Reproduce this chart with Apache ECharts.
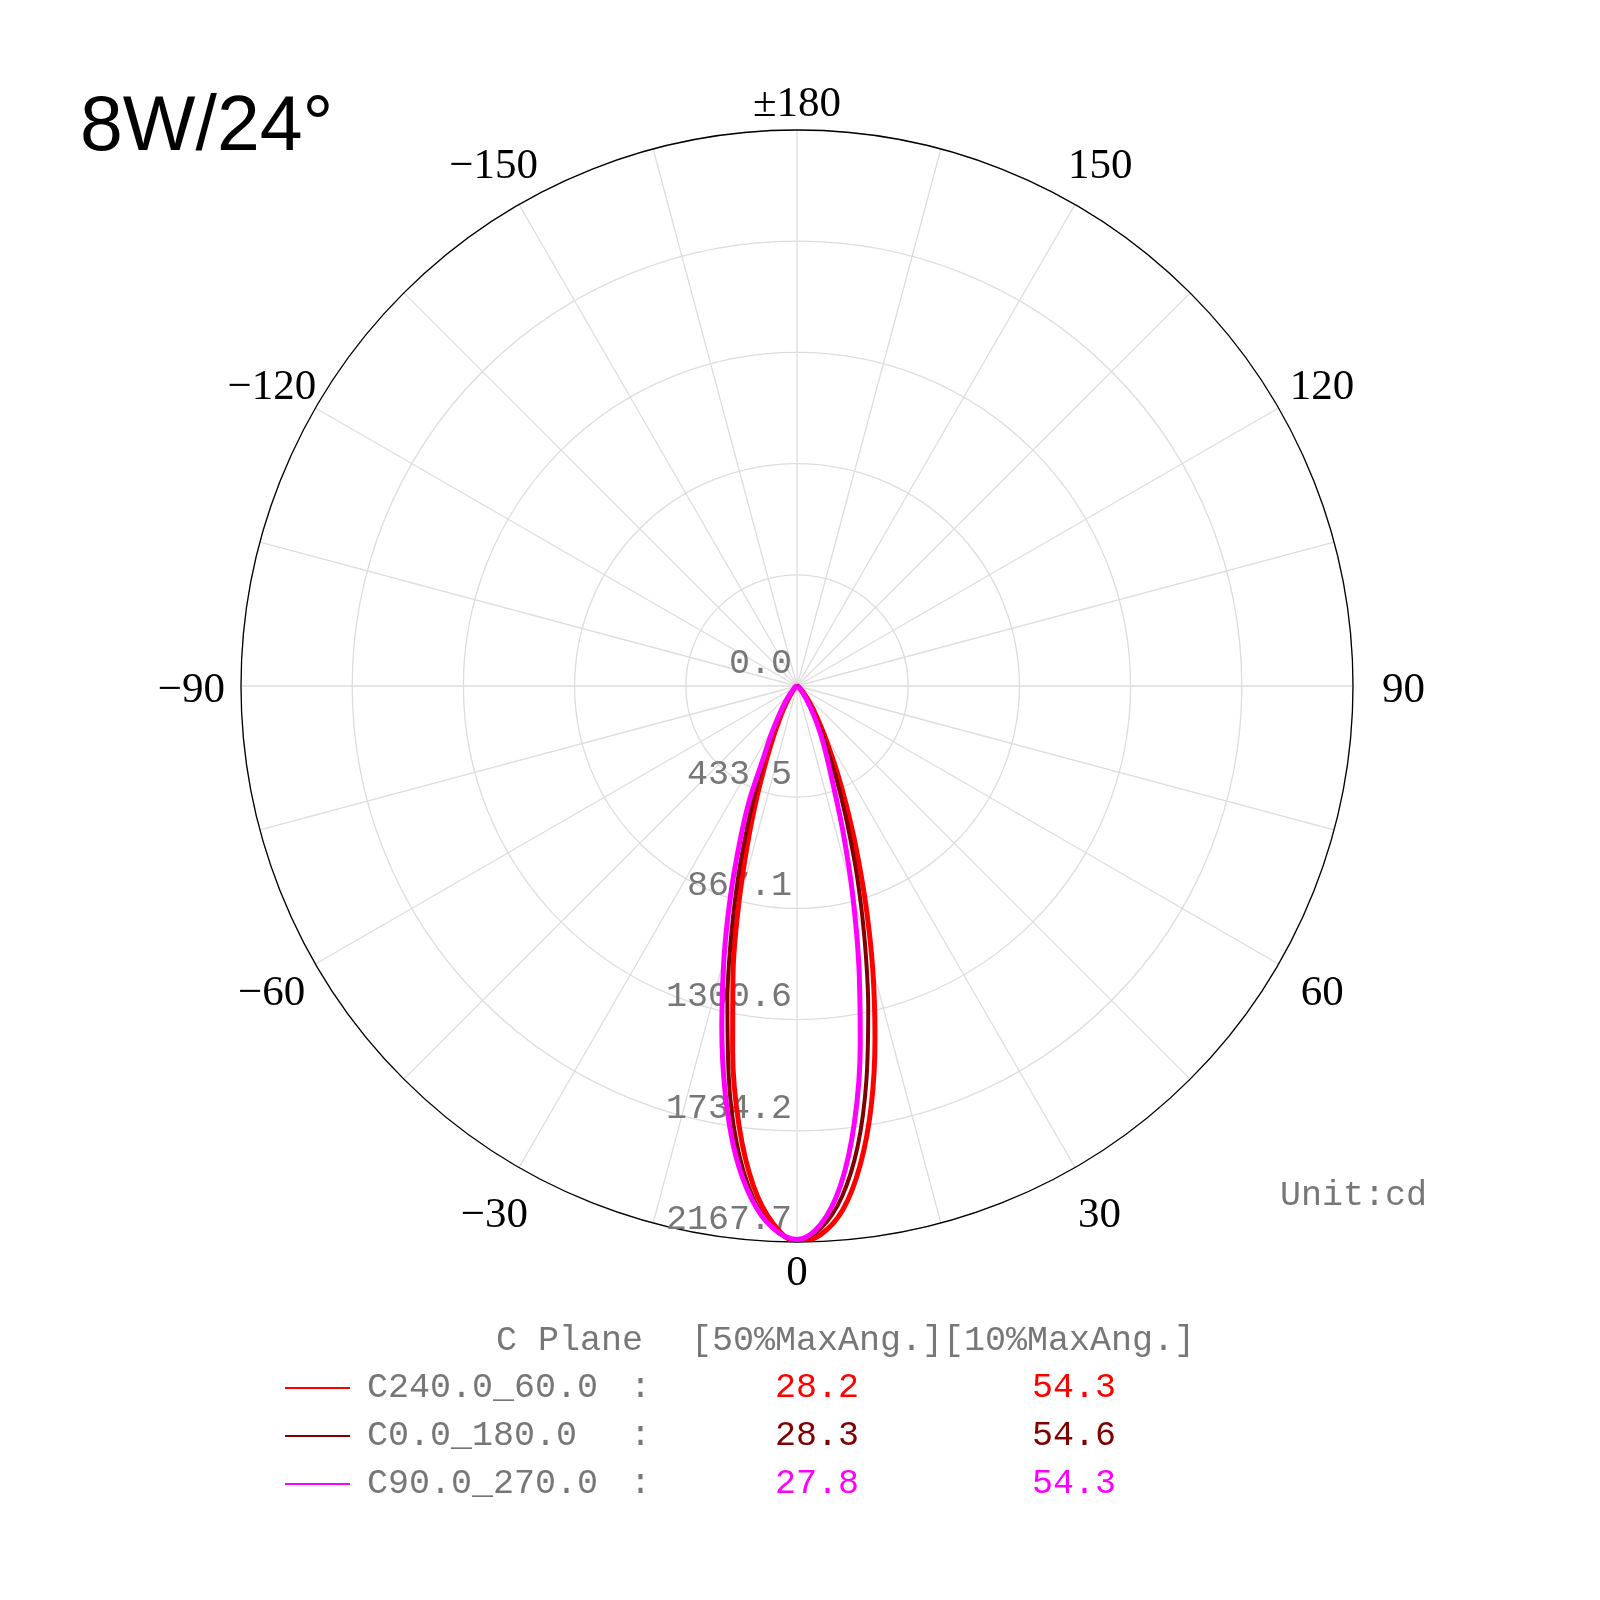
<!DOCTYPE html>
<html>
<head>
<meta charset="utf-8">
<title>8W/24°</title>
<script src="https://cdn.jsdelivr.net/npm/echarts@6/dist/echarts.min.js"></script>
<style>
  html, body { margin: 0; padding: 0; background: #fff; }
  #main { width: 1600px; height: 1600px; }
</style>
</head>
<body>
<div id="main"></div>
<script>
// gamma angles (deg), 0 = straight down
const gamma = [-180, -150, -120, -90, -80, -70, -60, -50, -45, -40, -35, -30, -27.5, -25, -22.5, -20, -17.5, -15, -12.5, -10, -7.5, -5, -2.5,
  0, 2.5, 5, 7.5, 10, 12.5, 15, 17.5, 20, 22.5, 25, 27.5, 30, 35, 40, 45, 50, 60, 70, 80, 90, 120, 150, 180];

// intensity (cd) per C plane
const c240_60 = [0, 0, 0, 0, 0, 2, 4, 10, 15, 27, 54, 108, 152, 217, 310, 451, 637, 876, 1153, 1445, 1730, 1955, 2100,
  2167.7, 2140, 2050, 1885, 1665, 1405, 1140, 890, 675, 501, 369, 267, 197, 108, 61, 33, 19, 9, 4, 2, 0, 0, 0, 0];
const c0_180 = [0, 0, 0, 0, 1, 2, 6, 13, 21, 38, 74, 144, 201, 274, 391, 542, 745, 983, 1253, 1536, 1799, 1996, 2116,
  2160, 2117, 2001, 1811, 1559, 1283, 1016, 779, 574, 418, 297, 217, 157, 82, 43, 24, 14, 7, 3, 1, 0, 0, 0, 0];
const c90_270 = [0, 0, 0, 0, 1, 3, 8, 16, 27, 48, 90, 165, 230, 310, 490, 658, 865, 1101, 1355, 1612, 1841, 2011, 2117,
  2158, 2102, 1953, 1716, 1420, 1114, 835, 598, 416, 310, 238, 178, 130, 66, 34, 18, 11, 5, 2, 0, 0, 0, 0, 0];

const planeNames = ['C240.0_60.0', 'C0.0_180.0', 'C90.0_270.0'];
const maxAng50 = ['28.2', '28.3', '27.8'];
const maxAng10 = ['54.3', '54.6', '54.3'];
const colors = ['#ff0000', '#800000', '#ff00ff'];
const radiusTicks = [0, 433.54, 867.08, 1300.62, 1734.16, 2167.7];

const MONO = 'Liberation Mono';
const SERIF = 'Liberation Serif';
const GRAY = '#777777';

const R = 556;             // polar radius in px
const ANGLE_MARGIN = -46;  // labels get pushed out with spacers below
const ANGLE_FONT = 43;
const ANGLE_LH = 44;
const ANGLE_DY = 5;        // digits sit a bit high in their box

// polar data is [radius, angle]; angle axis runs 0..360
function toPolar(vals) {
  return vals.map((v, i) => [v, gamma[i] < 0 ? gamma[i] + 360 : gamma[i]]);
}

function angleText(v) {
  if (v === 180) return '±180';
  return v > 180 ? '\u2212' + (360 - v) : String(v);
}

// echarts aligns angle labels by side; spacers centre them on a ring like the original
const measure = document.createElement('canvas').getContext('2d');
measure.font = ANGLE_FONT + 'px "' + SERIF + '"';
const angleRich = { t: { fontFamily: SERIF, fontSize: ANGLE_FONT, lineHeight: ANGLE_LH, color: '#000' } };
const angleFmt = {};
for (let v = 0; v < 360; v += 30) {
  const text = angleText(v);
  const sx = Math.sin(v * Math.PI / 180), sy = Math.cos(v * Math.PI / 180);
  const A = R + ANGLE_MARGIN;
  const want = sy < -0.99 ? 586 : (sy > 0.99 ? 583 : 606);
  const w = measure.measureText(text).width;
  const halign = Math.abs(A * sx) / R < 0.3 ? 'center' : (sx > 0 ? 'left' : 'right');
  const valign = Math.abs(A * sy) / R < 0.3 ? 'middle' : (sy > 0 ? 'top' : 'bottom');
  let hp = 0, vpTop = 0, vpBottom = 0;
  if (halign === 'left') hp = want * sx - A * sx - w / 2;
  if (halign === 'right') hp = A * sx - want * sx - w / 2;
  if (valign === 'top') vpTop = want * sy + ANGLE_DY - A * sy - ANGLE_LH / 2;
  if (valign === 'bottom') vpBottom = A * sy - (want * sy + ANGLE_DY) - ANGLE_LH / 2;
  if (valign === 'middle') vpTop = 2 * ANGLE_DY;
  hp = Math.max(0, Math.round(hp));
  vpTop = Math.max(0, Math.round(vpTop));
  vpBottom = Math.max(0, Math.round(vpBottom));
  let line = '{t|' + text + '}';
  if (hp > 0) {
    angleRich['h' + v] = { width: hp, fontSize: 1, lineHeight: ANGLE_LH };
    line = halign === 'left' ? '{h' + v + '|\u00a0}' + line : line + '{h' + v + '|\u00a0}';
  }
  if (vpTop > 0) {
    angleRich['g' + v] = { width: 1, fontSize: 1, lineHeight: vpTop };
    line = '{g' + v + '|\u00a0}\n' + line;
  }
  if (vpBottom > 0) {
    angleRich['g' + v] = { width: 1, fontSize: 1, lineHeight: vpBottom };
    line = line + '\n{g' + v + '|\u00a0}';
  }
  angleFmt[v] = line;
}

const chart = echarts.init(document.getElementById('main'));

const rich = {
  s: { width: 12, fontFamily: MONO, fontSize: 35 },
  n: { width: 263, color: GRAY, fontFamily: MONO, fontSize: 35 },
  c: { width: 145, color: GRAY, fontFamily: MONO, fontSize: 35 }
};
colors.forEach((c, i) => {
  rich['a' + i] = { width: 257, color: c, fontFamily: MONO, fontSize: 35 };
  rich['b' + i] = { color: c, fontFamily: MONO, fontSize: 35 };
});

const option = {
  backgroundColor: '#fff',
  animation: false,
  title: {
    text: '8W/24°',
    left: 75,
    top: 85,
    textStyle: { fontFamily: 'Liberation Sans', fontSize: 77, fontWeight: 'normal', color: '#000' }
  },
  polar: { center: [797, 686], radius: R },
  angleAxis: {
    type: 'value',
    min: 0,
    max: 360,
    interval: 15,
    startAngle: 270,
    clockwise: false,
    axisLine: { lineStyle: { color: '#000', width: 1.3 } },
    axisTick: { show: false },
    splitLine: { lineStyle: { color: '#dddddd', width: 1.3 } },
    axisLabel: {
      margin: ANGLE_MARGIN,
      rich: angleRich,
      formatter: function (v) {
        return angleFmt[v] || '';
      }
    }
  },
  radiusAxis: {
    type: 'value',
    min: 0,
    max: radiusTicks[radiusTicks.length - 1],
    interval: radiusTicks[1],
    axisLine: { show: false },
    axisTick: { show: false },
    splitLine: { lineStyle: { color: '#dddddd', width: 1.3 } },
    axisLabel: {
      align: 'right',
      verticalAlign: 'bottom',
      margin: -5,
      lineHeight: 45,
      color: GRAY,
      fontFamily: MONO,
      fontSize: 35,
      formatter: function (v) { return v.toFixed(1); }
    }
  },
  legend: {
    orient: 'vertical',
    left: 280,
    top: 1363,
    itemWidth: 65,
    itemHeight: 2,
    itemGap: 8,
    icon: 'rect',
    selectedMode: false,
    data: planeNames,
    textStyle: { fontFamily: MONO, fontSize: 35, color: GRAY, lineHeight: 40, rich: rich },
    formatter: function (name) {
      const i = planeNames.indexOf(name);
      return '{s| }{n|' + name + '}{c|:}{a' + i + '|' + maxAng50[i] + '}{b' + i + '|' + maxAng10[i] + '}';
    }
  },
  graphic: [
    { type: 'text', left: 496, top: 1323, style: { text: 'C Plane', font: '35px "' + MONO + '"', fill: GRAY } },
    { type: 'text', left: 691, top: 1323, style: { text: '[50%MaxAng.][10%MaxAng.]', font: '35px "' + MONO + '"', fill: GRAY } },
    { type: 'text', left: 1280, top: 1178, style: { text: 'Unit:cd', font: '35px "' + MONO + '"', fill: GRAY } }
  ],
  series: [
    { name: planeNames[0], type: 'line', coordinateSystem: 'polar', showSymbol: false, smooth: 0.35, data: toPolar(c240_60), lineStyle: { color: colors[0], width: 5 }, itemStyle: { color: colors[0] } },
    { name: planeNames[1], type: 'line', coordinateSystem: 'polar', showSymbol: false, smooth: 0.35, data: toPolar(c0_180), lineStyle: { color: colors[1], width: 4 }, itemStyle: { color: colors[1] } },
    { name: planeNames[2], type: 'line', coordinateSystem: 'polar', showSymbol: false, smooth: 0.35, data: toPolar(c90_270), lineStyle: { color: colors[2], width: 5 }, itemStyle: { color: colors[2] } }
  ]
};

chart.setOption(option);
</script>
</body>
</html>
